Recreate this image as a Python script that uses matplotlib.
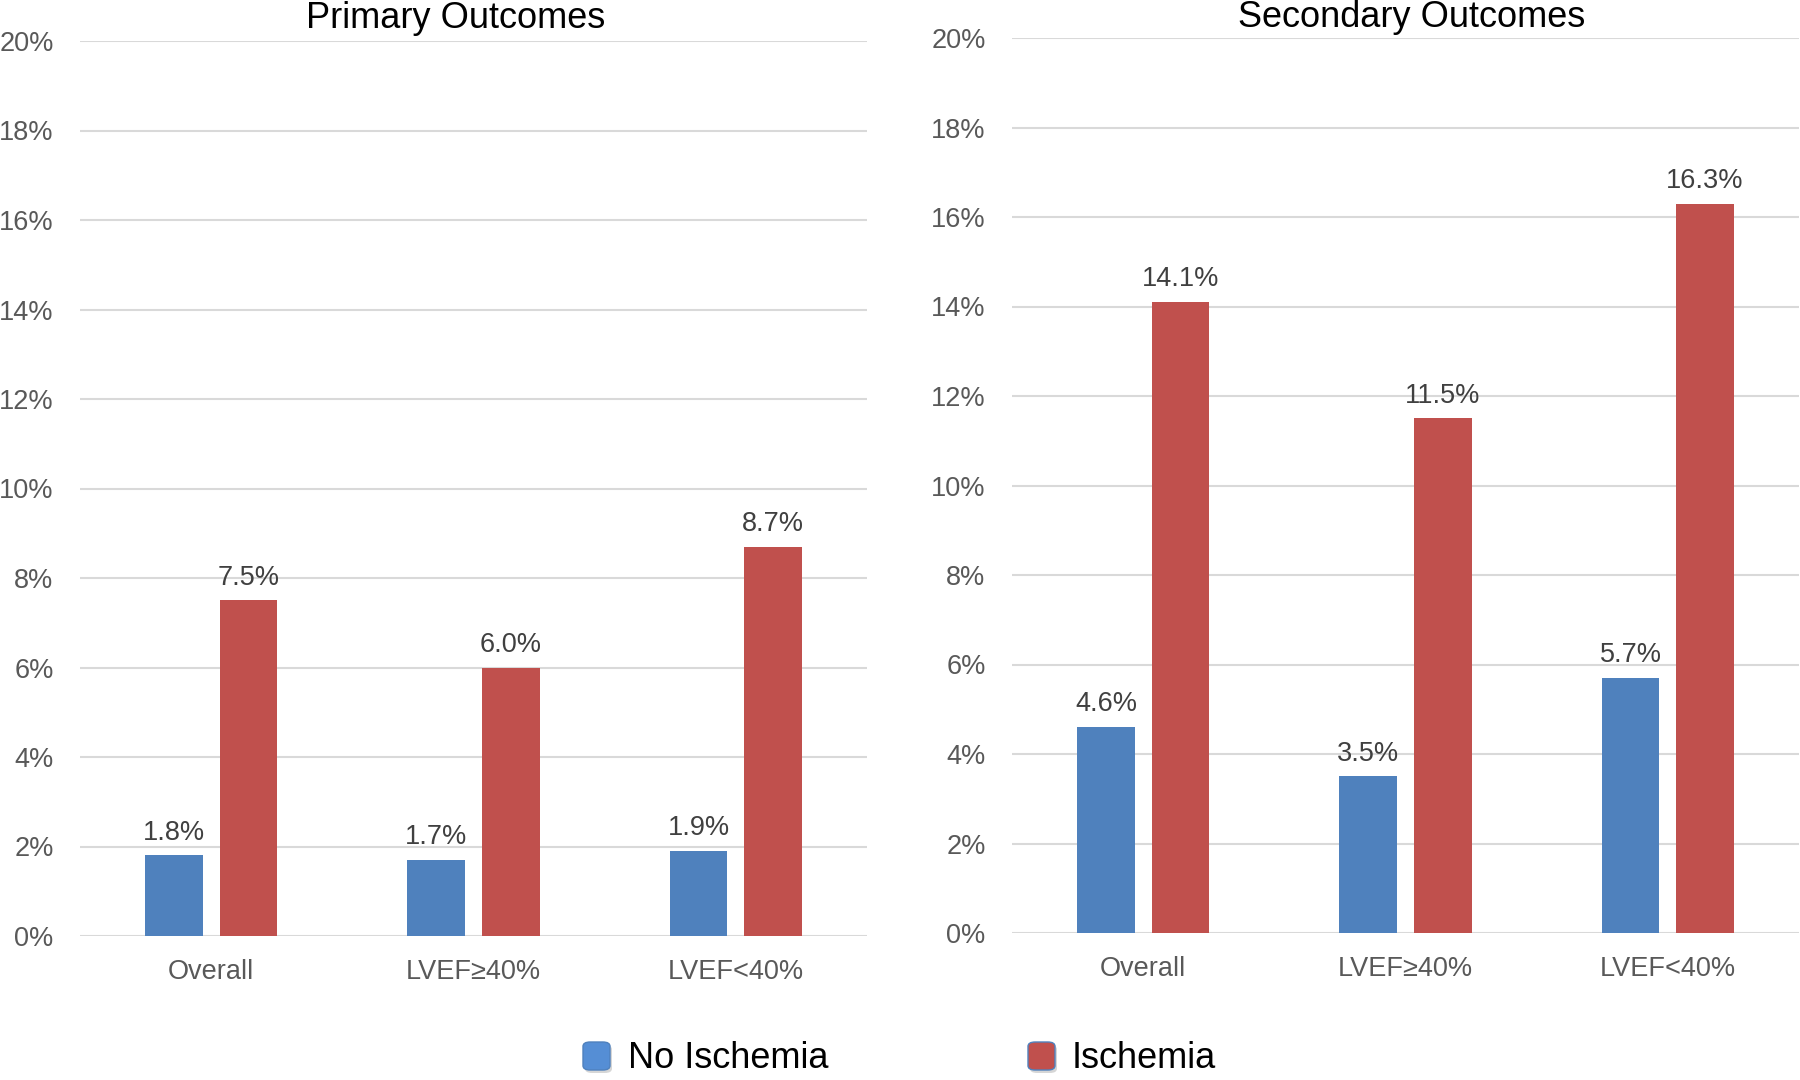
import matplotlib
matplotlib.use('Agg')
import matplotlib.pyplot as plt
from matplotlib.patches import FancyBboxPatch
import numpy as np

plt.rcParams['font.family'] = ['Liberation Sans', 'DejaVu Sans']

categories = ['Overall', 'LVEF≥40%', 'LVEF<40%']
series_names = ['No Ischemia', 'Ischemia']

primary_no = [1.8, 1.7, 1.9]
primary_isch = [7.5, 6.0, 8.7]
secondary_no = [4.6, 3.5, 5.7]
secondary_isch = [14.1, 11.5, 16.3]

panel_titles = ['Primary Outcomes', 'Secondary Outcomes']
yticks = [0, 2, 4, 6, 8, 10, 12, 14, 16, 18, 20]

blue = '#4F81BD'
red = '#C0504D'
legend_blue = '#558ED5'

fig = plt.figure(figsize=(18, 10.8), dpi=100)
ax1 = fig.add_axes([80 / 1800, 144 / 1080, 787 / 1800, 895 / 1080])
ax2 = fig.add_axes([1012 / 1800, 147 / 1080, 787 / 1800, 895 / 1080])

x = np.arange(len(categories))
w = 0.22
off = 0.142

for ax, no_vals, isch_vals in [(ax1, primary_no, primary_isch), (ax2, secondary_no, secondary_isch)]:
    b1 = ax.bar(x - off, no_vals, w, color=blue, zorder=3)
    b2 = ax.bar(x + off, isch_vals, w, color=red, zorder=3)
    for bars, vals in [(b1, no_vals), (b2, isch_vals)]:
        for rect, v in zip(bars, vals):
            ax.annotate('%.1f%%' % v, (rect.get_x() + rect.get_width() / 2, v),
                        xytext=(0, 7), textcoords='offset points',
                        ha='center', va='bottom', fontsize=19.5, color='#404040')
    ax.set_xlim(-0.5, 2.5)
    ax.set_ylim(0, 20)
    ax.set_yticks(yticks)
    ax.set_yticklabels(['%d%%' % t for t in yticks])
    ax.set_xticks(x)
    ax.set_xticklabels(categories)
    ax.tick_params(axis='both', length=0, labelsize=19.5, labelcolor='#595959')
    ax.tick_params(axis='y', pad=19)
    ax.tick_params(axis='x', pad=16.5)
    ax.grid(axis='y', color='#D9D9D9', linewidth=1.5, zorder=0)
    for s in ax.spines.values():
        s.set_visible(False)

fig.text(456 / 1800, 1 - 28 / 1080, panel_titles[0], ha='center', va='baseline', fontsize=26, color='black')
fig.text(1412 / 1800, 1 - 27 / 1080, panel_titles[1], ha='center', va='baseline', fontsize=26, color='black')

# legend, drawn by hand to get the rounded swatches
for name, col, mx, tx in [(series_names[0], legend_blue, 583, 628), (series_names[1], red, 1028, 1072)]:
    shadow = FancyBboxPatch(((mx + 2) / 1800, 7 / 1080), 27 / 1800, 28 / 1080,
                            boxstyle='round,pad=0,rounding_size=0.004',
                            transform=fig.transFigure, facecolor='#BBBBBB',
                            edgecolor='none', alpha=0.6)
    sw = FancyBboxPatch((mx / 1800, 10 / 1080), 27 / 1800, 28 / 1080,
                        boxstyle='round,pad=0,rounding_size=0.004',
                        transform=fig.transFigure, facecolor=col,
                        edgecolor='#4F81BD', linewidth=1)
    fig.patches.append(shadow)
    fig.patches.append(sw)
    fig.text(tx / 1800, 12 / 1080, name, ha='left', va='baseline', fontsize=26, color='black')

fig.savefig('out.png', dpi=100)
